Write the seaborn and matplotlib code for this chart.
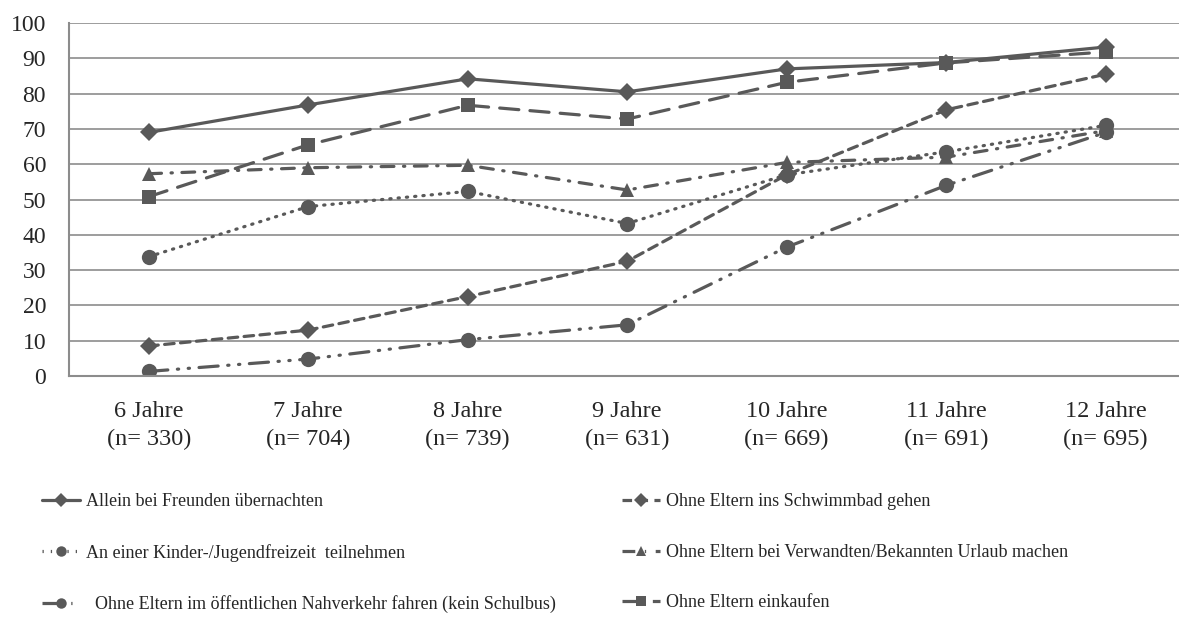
import matplotlib
matplotlib.use("Agg")
import matplotlib.pyplot as plt
import seaborn as sns
import pandas as pd
import numpy as np

# ── Data ──────────────────────────────────────────────────────────────
AGES = ["6 Jahre", "7 Jahre", "8 Jahre", "9 Jahre", "10 Jahre", "11 Jahre", "12 Jahre"]
N_VALUES = [330, 704, 739, 631, 669, 691, 695]

SERIES = [
    "Allein bei Freunden übernachten",
    "Ohne Eltern ins Schwimmbad gehen",
    "An einer Kinder-/Jugendfreizeit  teilnehmen",
    "Ohne Eltern bei Verwandten/Bekannten Urlaub machen",
    "  Ohne Eltern im öffentlichen Nahverkehr fahren (kein Schulbus)",
    "Ohne Eltern einkaufen",
]

freunde = [69.0, 76.8, 84.2, 80.5, 87.0, 88.8, 93.2]
schwimmbad = [8.5, 13.0, 22.5, 32.5, 57.0, 75.4, 85.5]
freizeit = [33.8, 48.0, 52.3, 43.2, 57.0, 63.5, 71.0]
urlaub = [57.3, 59.0, 59.7, 52.7, 60.5, 62.0, 69.5]
nahverkehr = [1.3, 4.8, 10.3, 14.5, 36.5, 54.0, 69.0]
einkaufen = [50.8, 65.5, 76.7, 72.8, 83.2, 88.7, 91.8]

VALUES = [freunde, schwimmbad, freizeit, urlaub, nahverkehr, einkaufen]

GRAY = "#595959"
GRID = "#8c8c8c"

df = pd.DataFrame(
    [
        {"pos": i, "value": v, "series": s}
        for s, vals in zip(SERIES, VALUES)
        for i, v in enumerate(vals)
    ]
)

markers = dict(zip(SERIES, ["D", "D", "o", "^", "o", "s"]))
dashes = dict(zip(SERIES, [
    "",
    (3.0, 2.0),
    (0.4, 2.2),
    (4.0, 3.0, 0.4, 3.0),
    (6.0, 3.0, 0.4, 3.0, 0.4, 3.0),
    (6.0, 3.5),
]))

sns.set_style("white")
plt.rcParams["font.family"] = ["Liberation Serif", "DejaVu Serif"]

fig = plt.figure(figsize=(11.79, 6.17), dpi=100)
ax = fig.add_axes([0.0585, 0.3906, 0.9415, 0.5721])

sns.lineplot(
    data=df, x="pos", y="value", hue="series", style="series",
    hue_order=SERIES, style_order=SERIES,
    palette=[GRAY] * len(SERIES), markers=markers, dashes=dashes,
    linewidth=2.3, markersize=10, markeredgewidth=0,
    ax=ax, legend=True,
)

# marker sizes a bit different per type
for line, m in zip(ax.lines, [markers[s] for s in SERIES]):
    if m == "D":
        line.set_markersize(9)
    elif m == "s":
        line.set_markersize(10.5)
    elif m == "^":
        line.set_markersize(10)
    else:
        line.set_markersize(11)
    line.set_dash_capstyle("round")

handles, labels = ax.get_legend_handles_labels()
ax.get_legend().remove()

# ── Axes styling ──────────────────────────────────────────────────────
ax.set_xlim(-0.5, 6.46)
ax.set_ylim(0, 100)
ax.set_yticks(range(0, 101, 10))
ax.yaxis.grid(True, color=GRID, linewidth=1.2)
ax.set_axisbelow(True)
ax.set_xlabel("")
ax.set_ylabel("")

ax.set_xticks(range(len(AGES)))
ax.set_xticklabels([f"{a}\n(n= {n})" for a, n in zip(AGES, N_VALUES)],
                   fontsize=17.5, linespacing=1.45)
ax.set_xticks(np.arange(0.5, 6.0, 1.0), minor=True)
ax.tick_params(axis="x", which="major", length=0, pad=18)
ax.tick_params(axis="x", which="minor", length=5, width=1.2, color=GRID, direction="out")
ax.tick_params(axis="y", length=5, width=1.2, color=GRID, labelsize=17, pad=11.5, direction="out")

for side in ["top", "right"]:
    ax.spines[side].set_visible(False)
for side in ["left", "bottom"]:
    ax.spines[side].set_color(GRID)
    ax.spines[side].set_linewidth(1.5)

# ── Legend ────────────────────────────────────────────────────────────
order_left = [0, 2, 4]
order_right = [1, 3, 5]
leg_kw = dict(frameon=False, fontsize=13, handlelength=2.1, labelspacing=1.85,
              handletextpad=0.3, borderaxespad=0, markerscale=0.75)
fig.legend([handles[i] for i in order_left], [labels[i] for i in order_left],
           loc="upper left", bbox_to_anchor=(0.0297, 0.212), **leg_kw)
fig.legend([handles[i] for i in order_right], [labels[i] for i in order_right],
           loc="upper left", bbox_to_anchor=(0.5216, 0.212), **leg_kw)

fig.savefig("out.png", dpi=100)
plt.close(fig)
